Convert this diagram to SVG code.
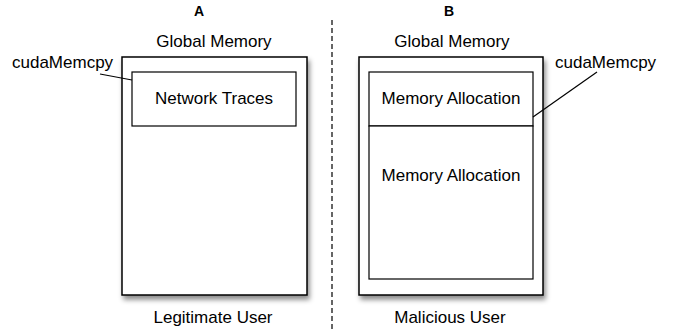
<svg xmlns="http://www.w3.org/2000/svg" width="677" height="330" viewBox="0 0 677 330">
<defs>
<style>
text{font-family:"Liberation Sans",Arial,sans-serif;font-size:17px;fill:#000}
.h{font-weight:bold;font-size:14px}
.outer{fill:#fff;stroke:#000;stroke-width:1.5}
.inner{fill:#fff;stroke:#000;stroke-width:1.2}
.lead{stroke:#000;stroke-width:1.2;fill:none}
.div{stroke:#333;stroke-width:1.5;stroke-dasharray:5 3;fill:none}
</style>
<filter id="sh" x="-10%" y="-10%" width="125%" height="125%">
<feDropShadow dx="2" dy="4" stdDeviation="2.5" flood-color="#000" flood-opacity="0.45"/>
</filter>
</defs>
<rect width="677" height="330" fill="#fff"/>
<g id="titles">
<text class="h" x="199" y="16" text-anchor="middle">A</text>
<text class="h" x="449" y="16" text-anchor="middle">B</text>
</g>
<g id="legit">
<text x="214" y="47" text-anchor="middle">Global Memory</text>
<rect class="outer" x="122" y="57" width="185" height="238" filter="url(#sh)"/>
<text x="213" y="323" text-anchor="middle">Legitimate User</text>
</g>
<g id="traces">
<rect class="inner" x="132" y="72" width="164" height="54"/>
<text x="214" y="104" text-anchor="middle">Network Traces</text>
</g>
<g id="malicious">
<text x="452" y="47" text-anchor="middle">Global Memory</text>
<rect class="outer" x="359" y="57" width="184" height="238" filter="url(#sh)"/>
<text x="450" y="323" text-anchor="middle">Malicious User</text>
</g>
<g id="alloc1">
<rect class="inner" x="369" y="72" width="164" height="54"/>
<text x="451" y="104" text-anchor="middle">Memory Allocation</text>
</g>
<g id="alloc2">
<rect class="inner" x="369" y="126" width="164" height="153"/>
<text x="451" y="181" text-anchor="middle">Memory Allocation</text>
</g>
<g id="labels">
<text x="12" y="68">cudaMemcpy</text>
<text x="555" y="68">cudaMemcpy</text>
</g>
<g id="connectors">
<path class="lead" d="M100 74 L132 80"/>
<path class="lead" d="M597 72 L533 117"/>
<path class="div" d="M332 20 V330"/>
</g>
</svg>
